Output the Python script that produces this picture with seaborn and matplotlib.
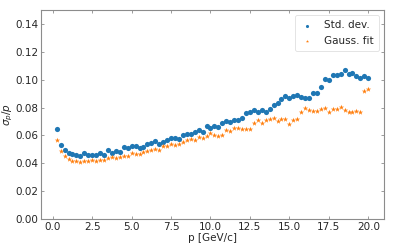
import pandas as pd
import matplotlib.pyplot as plt
import seaborn as sns

# momentum bins [GeV/c]
p = [0.25, 0.5, 0.75, 1.0, 1.25, 1.5, 1.75, 2.0, 2.25, 2.5, 2.75, 3.0, 3.25, 3.5, 3.75, 4.0,
     4.25, 4.5, 4.75, 5.0, 5.25, 5.5, 5.75, 6.0, 6.25, 6.5, 6.75, 7.0, 7.25, 7.5, 7.75, 8.0,
     8.25, 8.5, 8.75, 9.0, 9.25, 9.5, 9.75, 10.0, 10.25, 10.5, 10.75, 11.0, 11.25, 11.5, 11.75,
     12.0, 12.25, 12.5, 12.75, 13.0, 13.25, 13.5, 13.75, 14.0, 14.25, 14.5, 14.75, 15.0, 15.25,
     15.5, 15.75, 16.0, 16.25, 16.5, 16.75, 17.0, 17.25, 17.5, 17.75, 18.0, 18.25, 18.5, 18.75,
     19.0, 19.25, 19.5, 19.75, 20.0]

std_dev = [0.0648, 0.0530, 0.0494, 0.0473, 0.0466, 0.0458, 0.0449, 0.0475, 0.0461, 0.0461,
           0.0461, 0.0475, 0.0458, 0.0492, 0.0475, 0.0488, 0.0480, 0.0514, 0.0509, 0.0526,
           0.0526, 0.0511, 0.0514, 0.0535, 0.0542, 0.0557, 0.0535, 0.0552, 0.0564, 0.0581,
           0.0583, 0.0573, 0.0602, 0.0610, 0.0608, 0.0627, 0.0639, 0.0625, 0.0670,
           0.0653, 0.0668, 0.0663, 0.0687, 0.0701, 0.0697, 0.0708, 0.0713, 0.0722, 0.0761,
           0.0765, 0.0783, 0.0768, 0.0783, 0.0765, 0.0792, 0.0819, 0.0833, 0.0864, 0.0886,
           0.0872, 0.0884, 0.0889, 0.0874, 0.0869, 0.0869, 0.0905, 0.0903, 0.0948, 0.1006,
           0.0999, 0.1032, 0.1037, 0.1042, 0.1066, 0.1044, 0.1051, 0.1025, 0.1013, 0.1027,
           0.1015]

gauss_fit = [0.0566, 0.0485, 0.0449, 0.0432, 0.0418, 0.0416, 0.0411, 0.0416, 0.0416, 0.0420,
             0.0416, 0.0423, 0.0420, 0.0439, 0.0442, 0.0439, 0.0447, 0.0449, 0.0451, 0.0473,
             0.0470, 0.0463, 0.0480, 0.0487, 0.0497, 0.0504, 0.0494, 0.0521, 0.0526, 0.0540,
             0.0533, 0.0540, 0.0552, 0.0569, 0.0573, 0.0564, 0.0588, 0.0583, 0.0595,
             0.0620, 0.0602, 0.0595, 0.0602, 0.0636, 0.0634, 0.0651, 0.0655, 0.0648, 0.0648,
             0.0648, 0.0692, 0.0711, 0.0692, 0.0711, 0.0716, 0.0728, 0.0706, 0.0720, 0.0720,
             0.0682, 0.0711, 0.0718, 0.0768, 0.0800, 0.0783, 0.0776, 0.0773, 0.0788, 0.0797,
             0.0768, 0.0790, 0.0790, 0.0802, 0.0783, 0.0766, 0.0768, 0.0778, 0.0771, 0.0917,
             0.0932]

df = pd.DataFrame({'p': p, 'std': std_dev, 'gauss': gauss_fit})

sns.set_style('ticks', {'xtick.direction': 'in', 'ytick.direction': 'in',
                        'xtick.top': True, 'ytick.right': True,
                        'axes.edgecolor': '#8c8c8c'})

fig = plt.figure(figsize=(3.99, 2.5), dpi=100)
ax = fig.add_axes([0.103, 0.124, 0.859, 0.836])

sns.scatterplot(data=df, x='p', y='std', ax=ax, marker='o', s=14, color='#1f77b4',
                linewidth=0, label='Std. dev.')
sns.scatterplot(data=df, x='p', y='gauss', ax=ax, marker='*', s=16, color='#ff7f0e',
                linewidth=0, label='Gauss. fit')

ax.set_ylim(0, 0.15)
ax.set_yticks([0.0, 0.02, 0.04, 0.06, 0.08, 0.10, 0.12, 0.14])
ax.set_yticklabels([f'{v:.2f}' for v in ax.get_yticks()])
ax.set_xticks([0.0, 2.5, 5.0, 7.5, 10.0, 12.5, 15.0, 17.5, 20.0])
ax.set_xticklabels([f'{v:.1f}' for v in ax.get_xticks()])
ax.tick_params(labelsize=7.5, length=2.5, width=0.6, color='#8c8c8c', pad=2)
for s in ax.spines.values():
    s.set_linewidth(0.8)

ax.set_xlabel('p [GeV/c]', fontsize=7.5, labelpad=1)
ax.set_ylabel(r'$\sigma_p/p$', fontsize=7.5)
ax.yaxis.set_label_coords(-0.075, 0.5)

leg = ax.legend(loc='upper right', fontsize=7.5, frameon=True, handletextpad=0.9,
                handlelength=1.4, borderpad=0.5, markerscale=0.6)
leg.get_frame().set_edgecolor('#d8d8d8')
leg.get_frame().set_linewidth(0.6)

plt.savefig('out.png', dpi=100)
